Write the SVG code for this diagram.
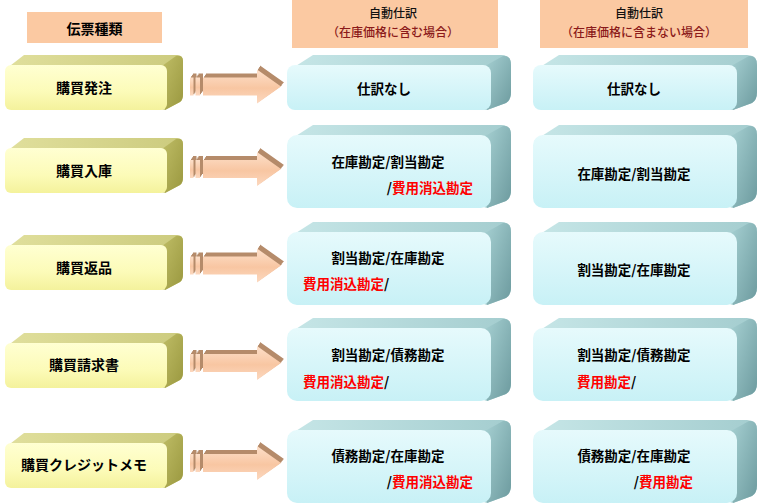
<svg xmlns="http://www.w3.org/2000/svg" xmlns:xlink="http://www.w3.org/1999/xlink" width="757" height="503" viewBox="0 0 757 503">
<style>
.t{font-family:"Noto Sans CJK JP","Noto Sans CJK SC",sans-serif;font-weight:bold;font-size:13.5px;fill:#000;dominant-baseline:central}
.lab{font-size:14px}
.h{font-size:12px;font-weight:500;fill:#111}
.hr{fill:#8b1a1a}
.r{fill:#ff0000}
.hdr{fill:#fbc9a2}
</style>
<defs>
<linearGradient id="yFront" x1="0" y1="0" x2="0" y2="1"><stop offset="0" stop-color="#ffffd2"/><stop offset="0.6" stop-color="#fcfbb8"/><stop offset="1" stop-color="#f4f29c"/></linearGradient>
<linearGradient id="yTop" x1="0" y1="0" x2="1" y2="0"><stop offset="0" stop-color="#e0df9c"/><stop offset="1" stop-color="#cccb7e"/></linearGradient>
<linearGradient id="ySide" x1="0" y1="0" x2="1" y2="1"><stop offset="0" stop-color="#bfbd66"/><stop offset="1" stop-color="#9a983f"/></linearGradient>
<linearGradient id="cFront" x1="0" y1="0" x2="0" y2="1"><stop offset="0" stop-color="#e6fafc"/><stop offset="1" stop-color="#c8f1f6"/></linearGradient>
<linearGradient id="cTop" x1="0" y1="0" x2="1" y2="0"><stop offset="0" stop-color="#c6e6e7"/><stop offset="1" stop-color="#a4cdcf"/></linearGradient>
<linearGradient id="cSide" x1="0" y1="0" x2="1" y2="1"><stop offset="0" stop-color="#a6d0d2"/><stop offset="1" stop-color="#6c9a9e"/></linearGradient>
<linearGradient id="aFront" x1="0" y1="0" x2="0" y2="1"><stop offset="0" stop-color="#fde0ca"/><stop offset="0.55" stop-color="#f8c6a2"/><stop offset="1" stop-color="#fcd8bf"/></linearGradient>
<g id="ybox">
<path d="M6,4 L24,-10 L177,-10 Q183,-10 183,-4 L183,29 Q183,35 180,37 L165,45 Z" fill="url(#yTop)"/>
<path d="M162,1 L176,-9 Q183,-10 183,-4 L183,29 Q183,35 180,37 L165,45 Z" fill="url(#ySide)"/>
<rect x="5" y="0" width="162" height="45" rx="6" fill="url(#yFront)"/>
</g>
<g id="cboxS">
<path d="M1,6 L26,-10 L214,-10 Q224,-10 224,0 L224,27 Q224,35 219,38 L200,45 Z" fill="url(#cTop)"/>
<path d="M198,1 L216,-9 Q224,-10 224,0 L224,27 Q224,35 219,38 L200,45 Z" fill="url(#cSide)"/>
<rect x="0" y="0" width="204" height="45" rx="8" fill="url(#cFront)"/>
</g>
<g id="cboxL">
<path d="M1,6 L26,-10 L214,-10 Q224,-10 224,0 L224,55 Q224,63 219,66 L200,73 Z" fill="url(#cTop)"/>
<path d="M198,1 L216,-9 Q224,-10 224,0 L224,55 Q224,63 219,66 L200,73 Z" fill="url(#cSide)"/>
<rect x="0" y="0" width="204" height="73" rx="10" fill="url(#cFront)"/>
</g>
<g id="ashape">
<path d="M203,-9 L257,-9 L257,-17 L281,0 L257,17 L257,9 L203,9 Z"/>
<rect x="190" y="-9" width="3.5" height="18"/>
<rect x="195.5" y="-9" width="4.5" height="18"/>
</g>
<g id="arrow">
<use xlink:href="#ashape" transform="translate(1,-1.3)" fill="#b58b6a"/>
<use xlink:href="#ashape" transform="translate(2,-2.7)" fill="#b58b6a"/>
<use xlink:href="#ashape" transform="translate(3,-4)" fill="#b58b6a"/>
<use xlink:href="#ashape" fill="url(#aFront)"/>
</g>
</defs>
<rect width="757" height="503" fill="#fff"/>

<g id="hdr-type"><rect class="hdr" x="27" y="12" width="135" height="31"/><text class="t lab" x="94.5" y="28" text-anchor="middle">伝票種類</text></g>
<g id="hdr-incl"><rect class="hdr" x="292" y="0" width="206" height="48"/><text class="t h" x="393" y="12.5" text-anchor="middle">自動仕訳</text><text class="t h hr" x="393" y="31" text-anchor="middle">（在庫価格に含む場合）</text></g>
<g id="hdr-excl"><rect class="hdr" x="540" y="0" width="208" height="48"/><text class="t h" x="639" y="12.5" text-anchor="middle">自動仕訳</text><text class="t h hr" x="639" y="31" text-anchor="middle">（在庫価格に含まない場合）</text></g>

<g id="connectors">
<use xlink:href="#arrow" y="86.5"/>
<use xlink:href="#arrow" y="169"/>
<use xlink:href="#arrow" y="265.5"/>
<use xlink:href="#arrow" y="363"/>
<use xlink:href="#arrow" y="463"/>
</g>

<g id="y1"><use xlink:href="#ybox" y="65"/><text class="t lab" x="84" y="87" text-anchor="middle">購買発注</text></g>
<g id="y2"><use xlink:href="#ybox" y="148"/><text class="t lab" x="84" y="170" text-anchor="middle">購買入庫</text></g>
<g id="y3"><use xlink:href="#ybox" y="245"/><text class="t lab" x="84" y="267" text-anchor="middle">購買返品</text></g>
<g id="y4"><use xlink:href="#ybox" y="343"/><text class="t lab" x="84" y="364" text-anchor="middle">購買請求書</text></g>
<g id="y5"><use xlink:href="#ybox" y="443"/><text class="t lab" x="84" y="464" text-anchor="middle">購買クレジットメモ</text></g>

<g id="a1"><use xlink:href="#cboxS" x="287" y="65"/><text class="t" x="384" y="88" text-anchor="middle">仕訳なし</text></g>
<g id="b1"><use xlink:href="#cboxS" x="533" y="65"/><text class="t" x="634" y="88" text-anchor="middle">仕訳なし</text></g>

<g id="a2"><use xlink:href="#cboxL" x="287" y="135"/><text class="t" x="388" y="161" text-anchor="middle">在庫勘定/割当勘定</text><text class="t" x="473" y="187" text-anchor="end">/<tspan class="r">費用消込勘定</tspan></text></g>
<g id="b2"><use xlink:href="#cboxL" x="533" y="135"/><text class="t" x="634" y="173" text-anchor="middle">在庫勘定/割当勘定</text></g>

<g id="a3"><use xlink:href="#cboxL" x="287" y="232"/><text class="t" x="388" y="257" text-anchor="middle">割当勘定/在庫勘定</text><text class="t" x="303" y="283"><tspan class="r">費用消込勘定</tspan>/</text></g>
<g id="b3"><use xlink:href="#cboxL" x="533" y="232"/><text class="t" x="634" y="269" text-anchor="middle">割当勘定/在庫勘定</text></g>

<g id="a4"><use xlink:href="#cboxL" x="287" y="328"/><text class="t" x="388" y="354" text-anchor="middle">割当勘定/債務勘定</text><text class="t" x="303" y="381"><tspan class="r">費用消込勘定</tspan>/</text></g>
<g id="b4"><use xlink:href="#cboxL" x="533" y="328"/><text class="t" x="634" y="354" text-anchor="middle">割当勘定/債務勘定</text><text class="t" x="577" y="381"><tspan class="r">費用勘定</tspan>/</text></g>

<g id="a5"><use xlink:href="#cboxL" x="287" y="430"/><text class="t" x="388" y="455" text-anchor="middle">債務勘定/在庫勘定</text><text class="t" x="473" y="481" text-anchor="end">/<tspan class="r">費用消込勘定</tspan></text></g>
<g id="b5"><use xlink:href="#cboxL" x="533" y="430"/><text class="t" x="634" y="455" text-anchor="middle">債務勘定/在庫勘定</text><text class="t" x="693" y="481" text-anchor="end">/<tspan class="r">費用勘定</tspan></text></g>
</svg>
